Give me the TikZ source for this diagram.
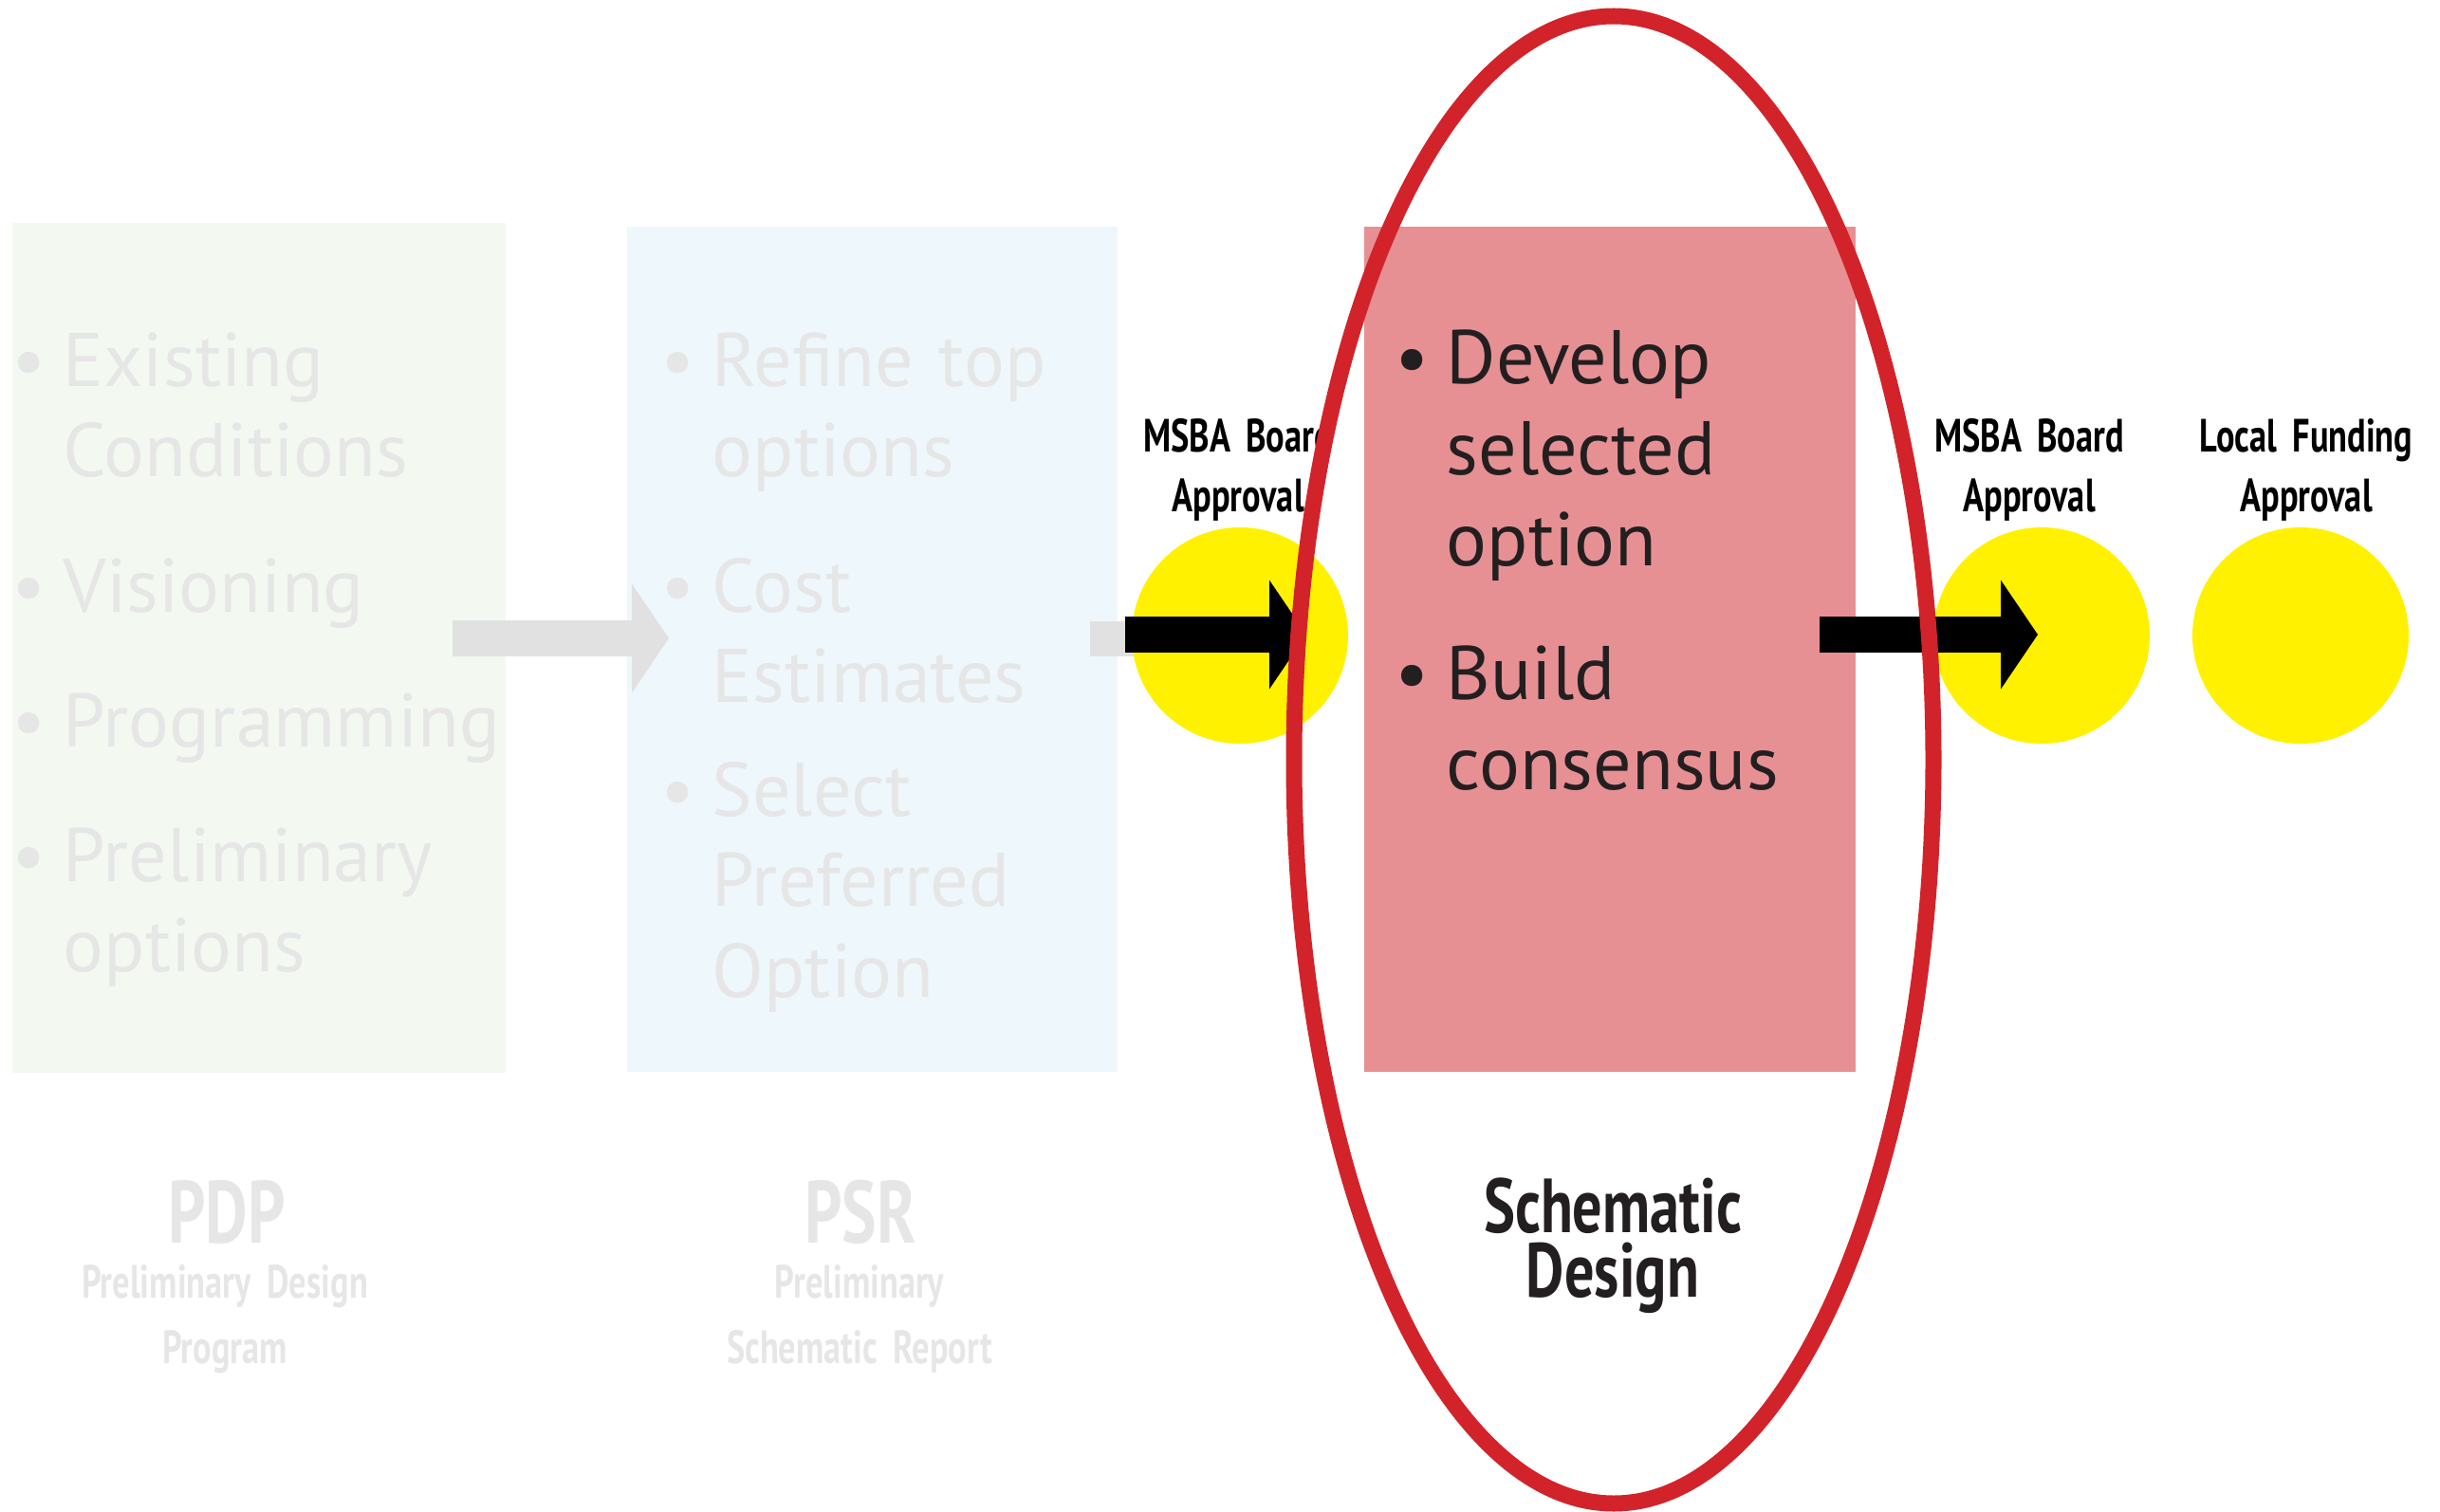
\documentclass[tikz,border=0pt]{standalone}
\usepackage{fontspec}
\setmainfont{PT Sans}[WordSpace=0.8]
\newfontfamily\condfont{PT Sans}[FakeStretch=0.74]
\newfontfamily\sdfont{PT Sans}[FakeStretch=0.77]
\usetikzlibrary{arrows.meta}

\definecolor{pdpgreen}{HTML}{F3F9F1}
\definecolor{psrblue}{HTML}{EEF7FC}
\definecolor{sdpink}{HTML}{E79094}
\definecolor{fadegrey}{HTML}{E6E6E6}
\definecolor{arrowgrey}{HTML}{E1E1E1}
\definecolor{okyellow}{HTML}{FFF100}
\definecolor{ringred}{HTML}{D2232A}
\definecolor{ink}{HTML}{231F20}

\newcommand{\bul}{\llap{\textbullet\hspace{0.22em}}}
\newcommand{\tight}{\fontdimen2\font=0.13em\relax}

\tikzstyle{stagebox} = [anchor=north west, inner sep=0pt, minimum height=8.91cm]
\tikzstyle{item}     = [anchor=base west, inner sep=0pt, text width=5.6cm, align=left, font=\fontsize{22.8}{27.3}\selectfont]
\tikzstyle{o}        = [circle, fill=okyellow, inner sep=0pt, minimum size=2.28cm]
\tikzstyle{tag}      = [anchor=base, inner sep=0pt, text width=4cm, align=center, font=\condfont\bfseries\fontsize{14}{17.9}\selectfont\tight]
\tikzstyle{bigarrow} = [line width=0.38cm, -{Triangle[length=0.39cm, width=1.15cm, line width=0pt]}]

\begin{document}
\begin{tikzpicture}
\useasboundingbox (0,0) rectangle (25.72,-15.94);

% stage boxes
\node [stagebox, fill=pdpgreen, minimum width=5.20cm, minimum height=8.96cm] at ( 0.12,-2.34) (pdp) {};
\node [stagebox, fill=psrblue,  minimum width=5.17cm] at ( 6.60,-2.38) (psr) {};
\node [stagebox, fill=sdpink,   minimum width=5.18cm] at (14.37,-2.38) (sd)  {};

% bullet items
\node [item, text=fadegrey] at ( 0.66,-4.07) (pdp1) {\bul Existing\\Conditions};
\node [item, text=fadegrey] at ( 0.66,-6.45) (pdp2) {\bul Visioning};
\node [item, text=fadegrey] at ( 0.66,-7.87) (pdp3) {\bul Programming};
\node [item, text=fadegrey] at ( 0.66,-9.29) (pdp4) {\bul Preliminary\\options};

\node [item, text=fadegrey] at ( 7.50,-4.07) (psr1) {\bul Refine top\\options};
\node [item, text=fadegrey] at ( 7.50,-6.45) (psr2) {\bul Cost\\Estimates};
\node [item, text=fadegrey] at ( 7.50,-8.60) (psr3) {\bul Select\\Preferred\\Option};

\node [item, text=ink]      at (15.24,-4.05) (sd1)  {\bul Develop\\selected\\option};
\node [item, text=ink]      at (15.24,-7.37) (sd2)  {\bul Build\\consensus};

% approvals
\node [o] at (13.07,-6.70) (msba1) {};
\node [o] at (21.52,-6.70) (msba2) {};
\node [o] at (24.25,-6.70) (fund)  {};

\node [tag] at (13.05,-4.77) (msba1txt) {MSBA Board\\Approval};
\node [tag] at (21.39,-4.77) (msba2txt) {MSBA Board\\Approval};
\node [tag] at (24.31,-4.77) (fundtxt)  {Local Funding\\Approval};

% arrows
\coordinate (g0) at ( 4.77,-6.73);
\coordinate (g1) at ( 7.05,-6.73);
\coordinate (s0) at (11.49,-6.73);
\coordinate (s1) at (11.95,-6.73);
\coordinate (b0) at (11.86,-6.69);
\coordinate (b1) at (13.77,-6.69);
\coordinate (b2) at (19.18,-6.69);
\coordinate (b3) at (21.48,-6.69);

\draw [bigarrow, arrowgrey] (g0) -- (g1);
\draw [arrowgrey, line width=0.37cm] (s0) -- (s1);
\draw [bigarrow, black] (b0) -- (b1);
\draw [bigarrow, black] (b2) -- (b3);

% stage names
\node [tag, text=fadegrey, font=\condfont\bfseries\fontsize{26.5}{30}\selectfont] at ( 2.39,-13.10) (pdpname) {PDP};
\node [tag, text=fadegrey, font=\condfont\bfseries\fontsize{14}{19.9}\selectfont\tight] at ( 2.37,-13.68) (pdpfull) {Preliminary Design\\Program};
\node [tag, text=fadegrey, font=\condfont\bfseries\fontsize{26.5}{30}\selectfont] at ( 9.07,-13.10) (psrname) {PSR};
\node [tag, text=fadegrey, font=\condfont\bfseries\fontsize{14}{19.9}\selectfont\tight] at ( 9.06,-13.68) (psrfull) {Preliminary\\Schematic Report};
\node [tag, text=ink, font=\sdfont\bfseries\fontsize{23}{19.6}\selectfont] at (17.00,-12.99) (sdname) {Schematic\\Design};

% current stage
\draw [ringred, line width=0.17cm] (17.01,-8.01) ellipse [x radius=3.37cm, y radius=7.84cm];

\end{tikzpicture}
\end{document}
